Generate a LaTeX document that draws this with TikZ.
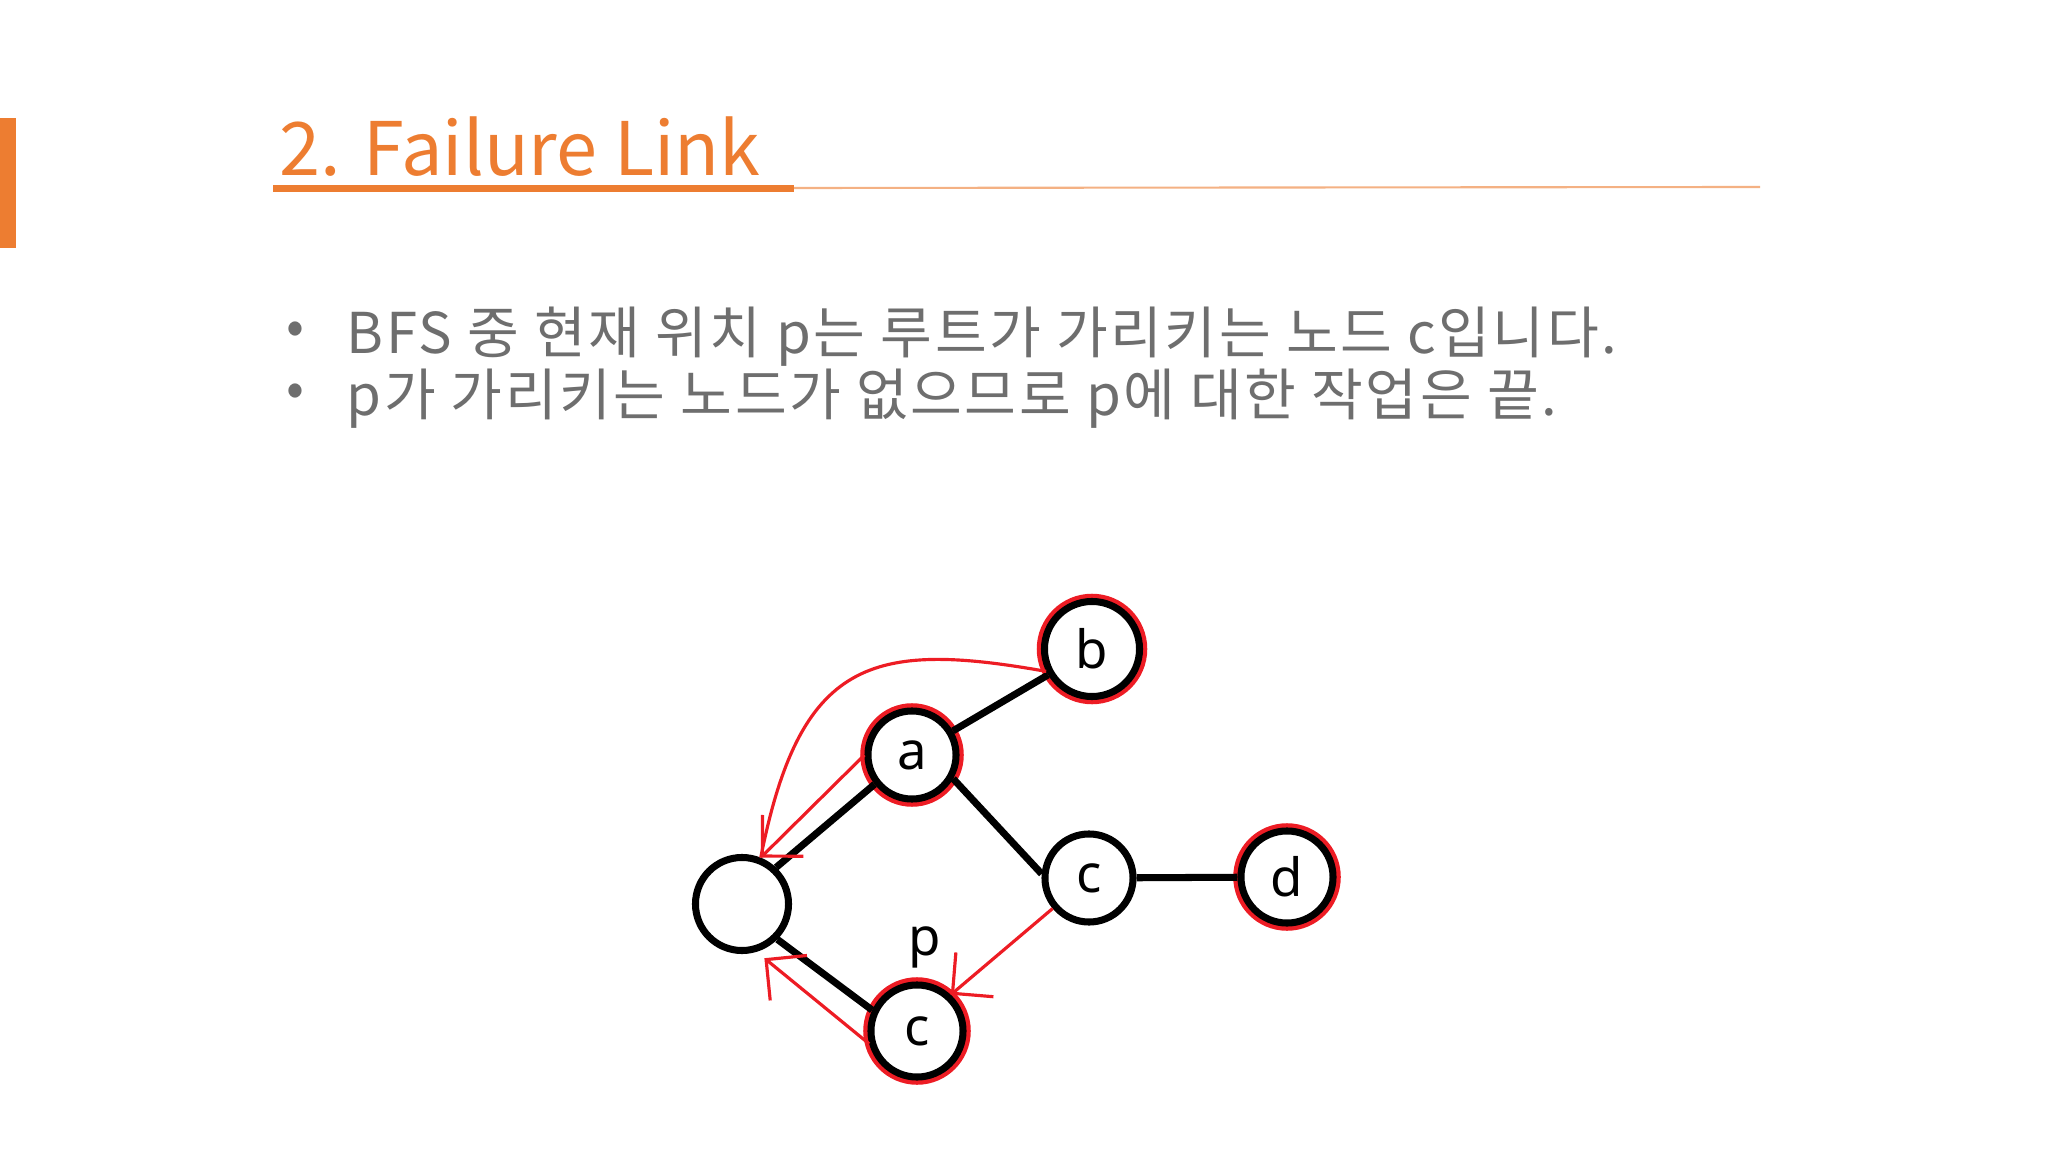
\documentclass[tikz,border=0pt]{standalone}
\usepackage{fontspec}
\setmainfont{Noto Sans CJK KR}
\newfontfamily\titlefont{Noto Sans CJK KR}
\newfontfamily\bodyfont[LetterSpace=4.5]{Noto Sans CJK KR}
\newfontfamily\graphfont{Noto Sans}
\usetikzlibrary{arrows.meta}

\definecolor{accent}{HTML}{ED7D31}
\definecolor{accentlight}{HTML}{F4B183}
\definecolor{bodygray}{HTML}{6E6E6E}
\definecolor{linkred}{HTML}{ED1C24}

\begin{document}
\begin{tikzpicture}[x=0.01cm, y=-0.01cm,
        state/.style={circle, draw=black, line width=2pt, fill=white, minimum size=0.9cm, inner sep=0pt, font=\graphfont\fontsize{15}{15}\selectfont},
        visited/.style={state, preaction={draw=linkred, line width=4.4pt}},
        tree/.style={line width=2pt},
        link/.style={draw=linkred, line width=0.9pt},
        fail/.style={link, -{Straight Barb[length=0.29cm, width=0.58cm]}},
        bodytext/.style={anchor=base west, inner sep=0pt, text=bodygray, font=\bodyfont\fontsize{16}{16}\selectfont}]
        \useasboundingbox (0,0) rectangle (2048,1152);

        \fill[accent] (0,118) rectangle (16,248);
        \node[anchor=base west, inner sep=0pt, text=accent, font=\titlefont\fontsize{21}{21}\selectfont](title) at (279,176){2. Failure Link};
        \fill[accent] (273,185) rectangle (794,192);
        \draw[accentlight, line width=0.6pt] (794,188) -- (1760,187);

        \node[text=bodygray, font=\fontsize{15}{15}\selectfont](bullet1) at (295,333){•};
        \node[bodytext](line1) at (346,354){BFS 중 현재 위치 p는 루트가 가리키는 노드 c입니다.};
        \node[text=bodygray, font=\fontsize{15}{15}\selectfont](bullet2) at (295,395){•};
        \node[bodytext](line2) at (346,416){p가 가리키는 노드가 없으므로 p에 대한 작업은 끝.};

        \node[state, minimum size=0.93cm](root) at (742,904){};
        \node[visited, minimum size=0.88cm](a) at (912,755){a};
        \node[visited, minimum size=0.95cm](b) at (1092,649){b};
        \node[state, minimum size=0.88cm](cmid) at (1089,878){c};
        \node[visited, minimum size=0.92cm](d) at (1287,877){d};
        \node[visited, minimum size=0.92cm](cbot) at (917,1031){c};
        \node[font=\graphfont\fontsize{15}{15}\selectfont](plabel) at (925,947){p};

        \path[tree](root.47) edge (a.218);
        \path[tree](root.-45) edge (cbot.155);
        \path[tree](a) edge (b);
        \path[tree](a.-30) edge (cmid.175);
        \path[tree](cmid) edge (d);

        \draw[link](b.206) .. controls (870,640) and (800,660) .. (root.68);
        \draw[fail](a.180) -- (root.68);
        \draw[fail, shorten >=0.1cm](cbot.195) -- (root.287);
        \draw[fail](cmid.220) -- (cbot.47);
    \end{tikzpicture}
\end{document}
